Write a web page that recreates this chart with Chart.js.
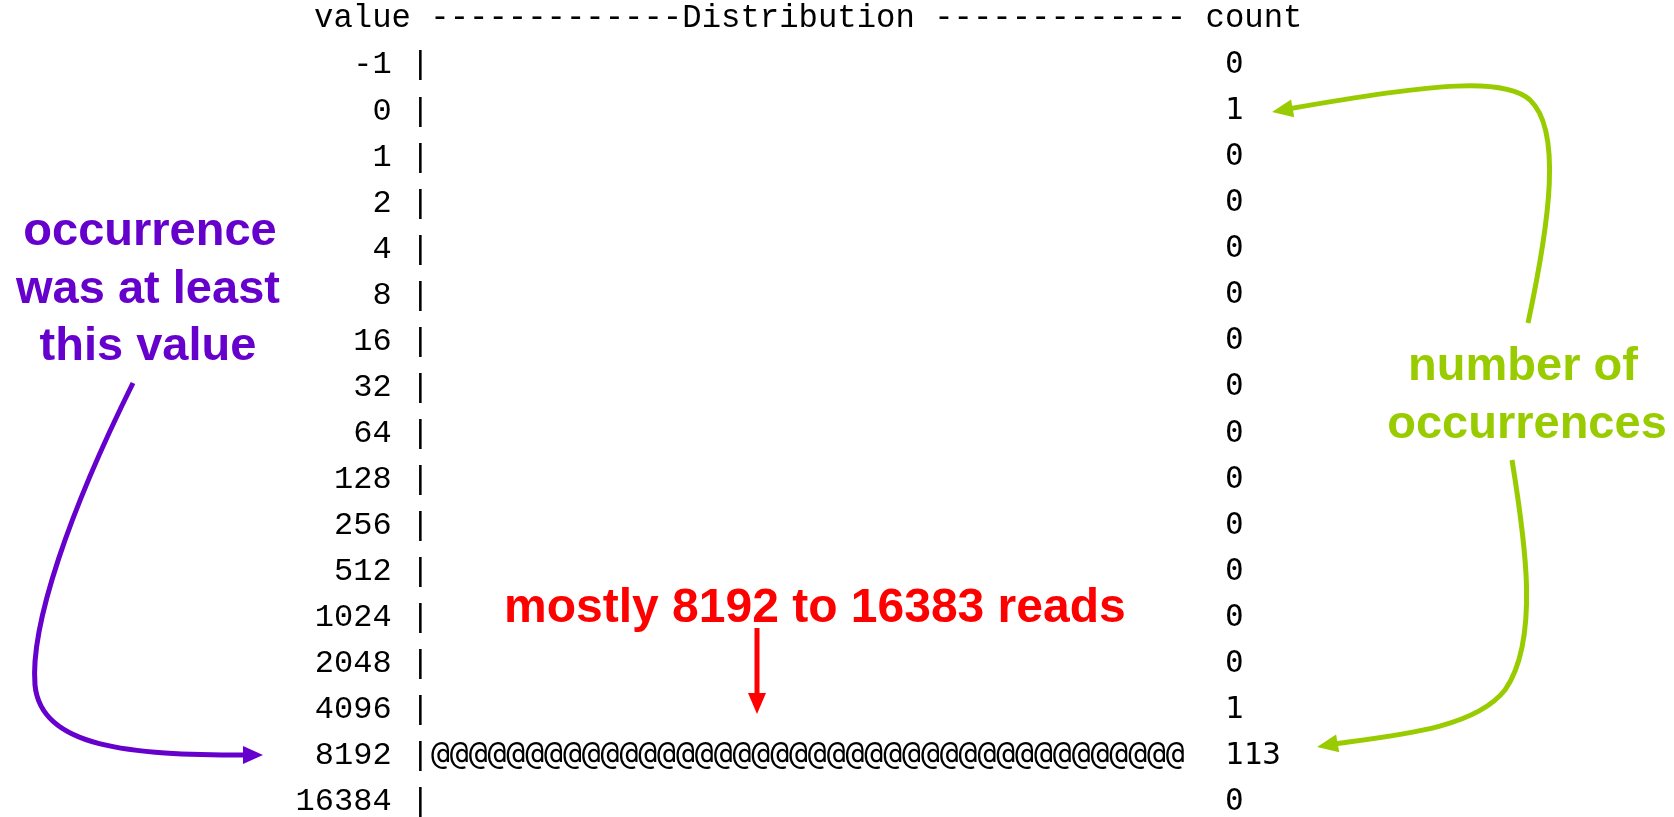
<!DOCTYPE html>
<html>
<head>
<meta charset="utf-8">
<title>DTrace quantize distribution</title>
<script src="https://cdn.jsdelivr.net/npm/chart.js@4/dist/chart.umd.min.js"></script>
<style>
  html, body { margin: 0; padding: 0; background: #fff; }
  canvas { display: block; }
</style>
</head>
<body>
<canvas id="myChart" width="1674" height="817"></canvas>
<script>
// buckets of the quantize() aggregation and how many reads fell in each
const bucketValues = ['-1', '0', '1', '2', '4', '8', '16', '32', '64', '128', '256', '512', '1024', '2048', '4096', '8192', '16384'];
const counts = [0, 1, 0, 0, 0, 0, 0, 0, 0, 0, 0, 0, 0, 0, 1, 113, 0];
const headerText = 'value -------------Distribution ------------- count';
const total = counts.reduce((a, b) => a + b, 0);

const MONO = '"Liberation Mono", monospace';
const MONO2 = '"DejaVu Sans Mono", monospace';
const SANS = '"Liberation Sans", Arial, sans-serif';

function arrowHead(ctx, tipX, tipY, fromX, fromY, len, halfW) {
  const a = Math.atan2(tipY - fromY, tipX - fromX);
  const bx = tipX - len * Math.cos(a);
  const by = tipY - len * Math.sin(a);
  ctx.beginPath();
  ctx.moveTo(tipX, tipY);
  ctx.lineTo(bx + halfW * Math.sin(a), by - halfW * Math.cos(a));
  ctx.lineTo(bx - halfW * Math.sin(a), by + halfW * Math.cos(a));
  ctx.closePath();
  ctx.fill();
}

// draws each bar as a row of '@' like the dtrace text output
const atBars = {
  id: 'atBars',
  afterDatasetsDraw(chart) {
    const { ctx } = chart;
    const meta = chart.getDatasetMeta(0);
    ctx.save();
    ctx.font = '31.3px ' + MONO2;
    ctx.fillStyle = '#000';
    ctx.textAlign = 'left';
    ctx.textBaseline = 'middle';
    const charW = ctx.measureText('@').width;
    meta.data.forEach((bar) => {
      const n = Math.round((bar.x - bar.base) / charW);
      if (n > 0) ctx.fillText('@'.repeat(n), bar.base, bar.y);
    });
    ctx.restore();
  },
};

const notes = {
  id: 'notes',
  afterDraw(chart) {
    const { ctx, scales: { y } } = chart;
    const step = y.getPixelForValue(1) - y.getPixelForValue(0);
    ctx.save();

    // header line
    ctx.font = '32.3px ' + MONO;
    ctx.fillStyle = '#000';
    ctx.textAlign = 'left';
    ctx.textBaseline = 'middle';
    ctx.fillText(headerText, 314, y.getPixelForValue(0) - step);

    ctx.lineCap = 'butt';
    ctx.lineWidth = 5;

    // purple note
    ctx.fillStyle = '#6600cc';
    ctx.strokeStyle = '#6600cc';
    ctx.font = 'bold 47px ' + SANS;
    ctx.textAlign = 'center';
    ctx.textBaseline = 'alphabetic';
    ctx.fillText('occurrence', 150, 245);
    ctx.fillText('was at least', 148, 303);
    ctx.fillText('this value', 148, 360);
    ctx.beginPath();
    ctx.moveTo(133, 383);
    ctx.bezierCurveTo(70, 510, 30, 625, 35, 685);
    ctx.bezierCurveTo(41, 748, 130, 755, 246, 755);
    ctx.stroke();
    arrowHead(ctx, 263, 755, 240, 755, 20, 9);

    // green note
    ctx.fillStyle = '#99cc00';
    ctx.strokeStyle = '#99cc00';
    ctx.font = 'bold 47px ' + SANS;
    ctx.fillText('number of', 1523, 380);
    ctx.fillText('occurrences', 1527, 438);
    ctx.beginPath();
    ctx.moveTo(1528, 323);
    ctx.bezierCurveTo(1550, 220, 1562, 130, 1530, 100);
    ctx.bezierCurveTo(1505, 78, 1440, 82, 1288, 109);
    ctx.stroke();
    arrowHead(ctx, 1272, 112, 1300, 107, 21, 9);
    ctx.beginPath();
    ctx.moveTo(1512, 460);
    ctx.bezierCurveTo(1525, 540, 1540, 640, 1505, 690);
    ctx.bezierCurveTo(1475, 728, 1400, 735, 1333, 744);
    ctx.stroke();
    arrowHead(ctx, 1317, 747, 1345, 742, 21, 9);

    // red note
    ctx.fillStyle = '#ff0000';
    ctx.strokeStyle = '#ff0000';
    ctx.font = 'bold 48px ' + SANS;
    ctx.textAlign = 'left';
    ctx.fillText('mostly 8192 to 16383 reads', 504, 622);
    ctx.beginPath();
    ctx.moveTo(757, 628);
    ctx.lineTo(757, 695);
    ctx.stroke();
    arrowHead(ctx, 757, 714, 757, 690, 21, 9);

    ctx.restore();
  },
};

const config = {
  type: 'bar',
  data: {
    labels: bucketValues,
    datasets: [
      {
        label: 'count',
        data: counts,
        yAxisID: 'y',
        backgroundColor: 'rgba(0,0,0,0)',
        borderWidth: 0,
      },
    ],
  },
  options: {
    indexAxis: 'y',
    responsive: false,
    devicePixelRatio: 1,
    animation: false,
    events: [],
    layout: {
      autoPadding: false,
      padding: { top: 65, bottom: 15, left: 0, right: 0 },
    },
    plugins: {
      legend: { display: false },
      title: { display: false },
      tooltip: { enabled: false },
    },
    scales: {
      x: {
        type: 'linear',
        min: 0,
        max: total,
        display: false,
      },
      y: {
        type: 'category',
        labels: bucketValues,
        position: 'left',
        offset: false,
        grid: { display: false, drawTicks: false },
        border: { display: false },
        ticks: {
          color: '#000',
          padding: 1,
          autoSkip: false,
          font: { family: MONO, size: 32, lineHeight: 0.9 },
          callback: (v, i) => bucketValues[i] + ' |',
        },
        afterFit: (scale) => {
          scale.width = 431;
          scale.paddingTop = 0;
          scale.paddingBottom = 0;
        },
      },
      y2: {
        type: 'category',
        labels: counts.map(String),
        position: 'right',
        offset: false,
        grid: { display: false, drawTicks: false },
        border: { display: false },
        ticks: {
          color: '#000',
          padding: 29,
          autoSkip: false,
          font: { family: MONO2, size: 31, lineHeight: 0.9 },
        },
        afterFit: (scale) => {
          scale.width = 478;
          scale.paddingTop = 0;
          scale.paddingBottom = 0;
        },
      },
    },
  },
  plugins: [atBars, notes],
};

const myChart = new Chart(document.getElementById('myChart'), config);
</script>
</body>
</html>
